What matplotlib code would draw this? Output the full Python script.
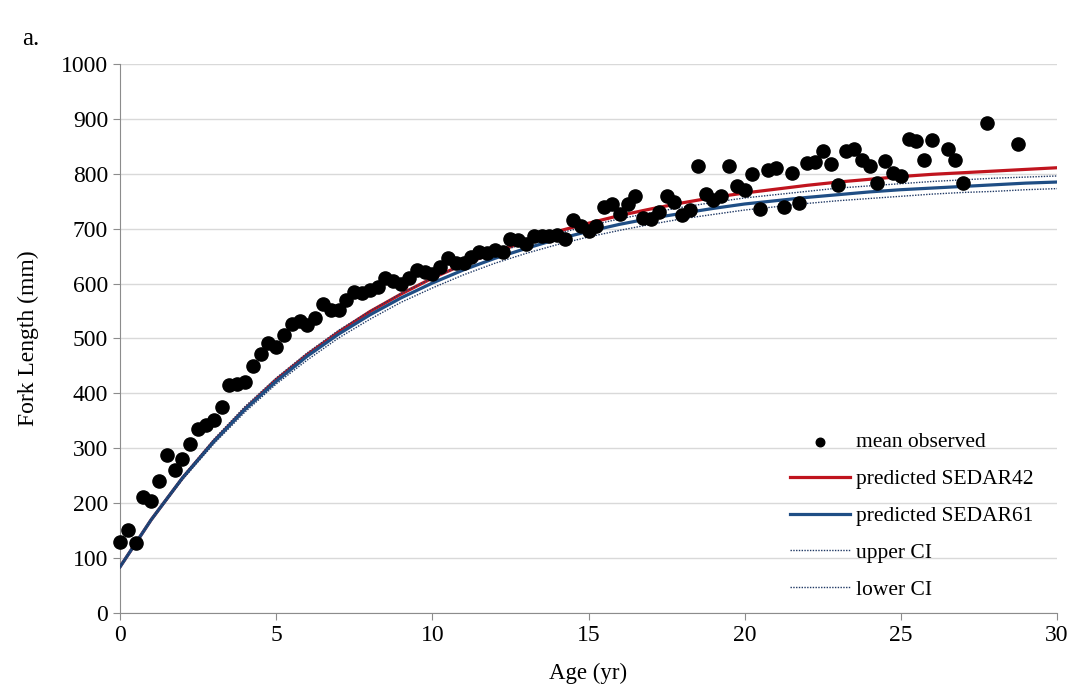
import matplotlib
matplotlib.use('Agg')
import matplotlib.pyplot as plt

plt.rcParams['font.family'] = ['Liberation Serif', 'DejaVu Serif']

# --- observed mean fork length by age ---
obs_age = [0, 0.25, 0.5, 0.75, 1.0, 1.25, 1.5, 1.75, 2.0, 2.25, 2.5, 2.75,
           3.0, 3.25, 3.5, 3.75, 4.0, 4.25, 4.5, 4.75, 5.0, 5.25, 5.5, 5.75,
           6.0, 6.25, 6.5, 6.75, 7.0, 7.25, 7.5, 7.75, 8.0, 8.25, 8.5, 8.75,
           9.0, 9.25, 9.5, 9.75, 10.0, 10.25, 10.5, 10.75, 11.0, 11.25, 11.5, 11.75,
           12.0, 12.25, 12.5, 12.75, 13.0, 13.25, 13.5, 13.75, 14.0, 14.25, 14.5, 14.75,
           15.0, 15.25, 15.5, 15.75, 16.0, 16.25, 16.5, 16.75, 17.0, 17.25, 17.5, 17.75,
           18.0, 18.25, 18.5, 18.75, 19.0, 19.25, 19.5, 19.75, 20.0, 20.25, 20.5, 20.75,
           21.0, 21.25, 21.5, 21.75, 22.0, 22.25, 22.5, 22.75, 23.0, 23.25, 23.5, 23.75,
           24.0, 24.25, 24.5, 24.75, 25.0, 25.25, 25.5, 25.75, 26.0, 26.5, 26.75, 27.0,
           27.75, 28.75]
obs_len = [130, 152, 127, 211, 204, 240, 287, 260, 280, 307, 336, 342,
           352, 376, 415, 418, 421, 450, 472, 492, 485, 506, 526, 532,
           525, 537, 563, 552, 551, 570, 585, 582, 588, 593, 610, 604,
           599, 611, 625, 622, 617, 630, 646, 638, 637, 648, 658, 655,
           662, 658, 682, 679, 673, 686, 687, 687, 688, 682, 716, 704,
           695, 704, 740, 745, 727, 745, 760, 720, 717, 731, 760, 749,
           725, 734, 815, 764, 753, 760, 815, 778, 770, 800, 735, 806,
           810, 739, 802, 747, 819, 822, 841, 818, 780, 841, 846, 826,
           815, 784, 823, 801, 796, 863, 860, 825, 862, 846, 825, 783,
           893, 854]

# --- predicted curves (read at whole years) ---
pred_age = list(range(0, 31))
sedar42 = [84, 170, 246, 313, 372, 425, 471, 512, 549, 581, 610, 635, 657, 677,
           695, 710, 724, 736, 747, 757, 765, 772, 779, 785, 790, 795, 799, 802,
           805, 808, 811]
sedar61 = [84, 170, 246, 312, 371, 422, 468, 508, 543, 574, 601, 625, 646, 664,
           681, 695, 708, 719, 728, 737, 745, 751, 757, 762, 767, 771, 774, 777,
           780, 783, 785]
upper_ci = [84, 171, 248, 316, 376, 428, 474, 515, 550, 582, 610, 634, 655, 674,
            691, 705, 718, 729, 739, 748, 756, 762, 768, 774, 778, 782, 786, 789,
            792, 794, 796]
lower_ci = [84, 169, 243, 308, 366, 417, 461, 501, 535, 566, 592, 616, 637, 655,
            671, 685, 697, 708, 718, 726, 734, 740, 746, 751, 755, 759, 763, 766,
            768, 771, 773]

RED = '#C0141E'
BLUE = '#1F4E85'
GRAY = '#8C8C8C'

fig = plt.figure(figsize=(10.86, 6.88), dpi=100, facecolor='white')
ax = fig.add_axes([0.1105, 0.109, 0.8628, 0.798])

ax.plot(pred_age, sedar42, color=RED, lw=2.3, label='predicted SEDAR42', zorder=3)
ax.plot(pred_age, sedar61, color=BLUE, lw=2.3, label='predicted SEDAR61', zorder=3)
ax.plot(pred_age, upper_ci, color='#1F3864', lw=1.0, ls=(0, (1, 1)), label='upper CI', zorder=4)
ax.plot(pred_age, lower_ci, color='#1F3864', lw=1.0, ls=(0, (1, 1)), label='lower CI', zorder=4)
ax.scatter(obs_age, obs_len, s=90, color='black', zorder=5, clip_on=False,
           label='mean observed')

ax.set_xlim(0, 30)
ax.set_ylim(0, 1000)
ax.set_xticks(range(0, 31, 5))
ax.set_yticks(range(0, 1001, 100))
ax.yaxis.grid(True, color='#D9D9D9', lw=1)
ax.set_axisbelow(True)

for s in ['top', 'right']:
    ax.spines[s].set_visible(False)
for s in ['left', 'bottom']:
    ax.spines[s].set_color(GRAY)
ax.tick_params(axis='both', colors=GRAY, labelcolor='black', labelsize=17,
               direction='out', length=5)

ax.set_xlabel('Age (yr)', fontsize=16.5, labelpad=12)
ax.set_ylabel('Fork Length (mm)', fontsize=17, labelpad=16)

fig.text(0.02, 0.935, 'a.', fontsize=18)

handles, labels = ax.get_legend_handles_labels()
order = [4, 0, 1, 2, 3]
leg = ax.legend([handles[i] for i in order], [labels[i] for i in order],
                loc='upper left', bbox_to_anchor=(0.715, 0.329), frameon=False,
                borderaxespad=0, borderpad=0,
                fontsize=15.5, handlelength=2.8, labelspacing=0.78, handletextpad=0.25,
                markerscale=0.65)

fig.savefig('out.png', dpi=100)
